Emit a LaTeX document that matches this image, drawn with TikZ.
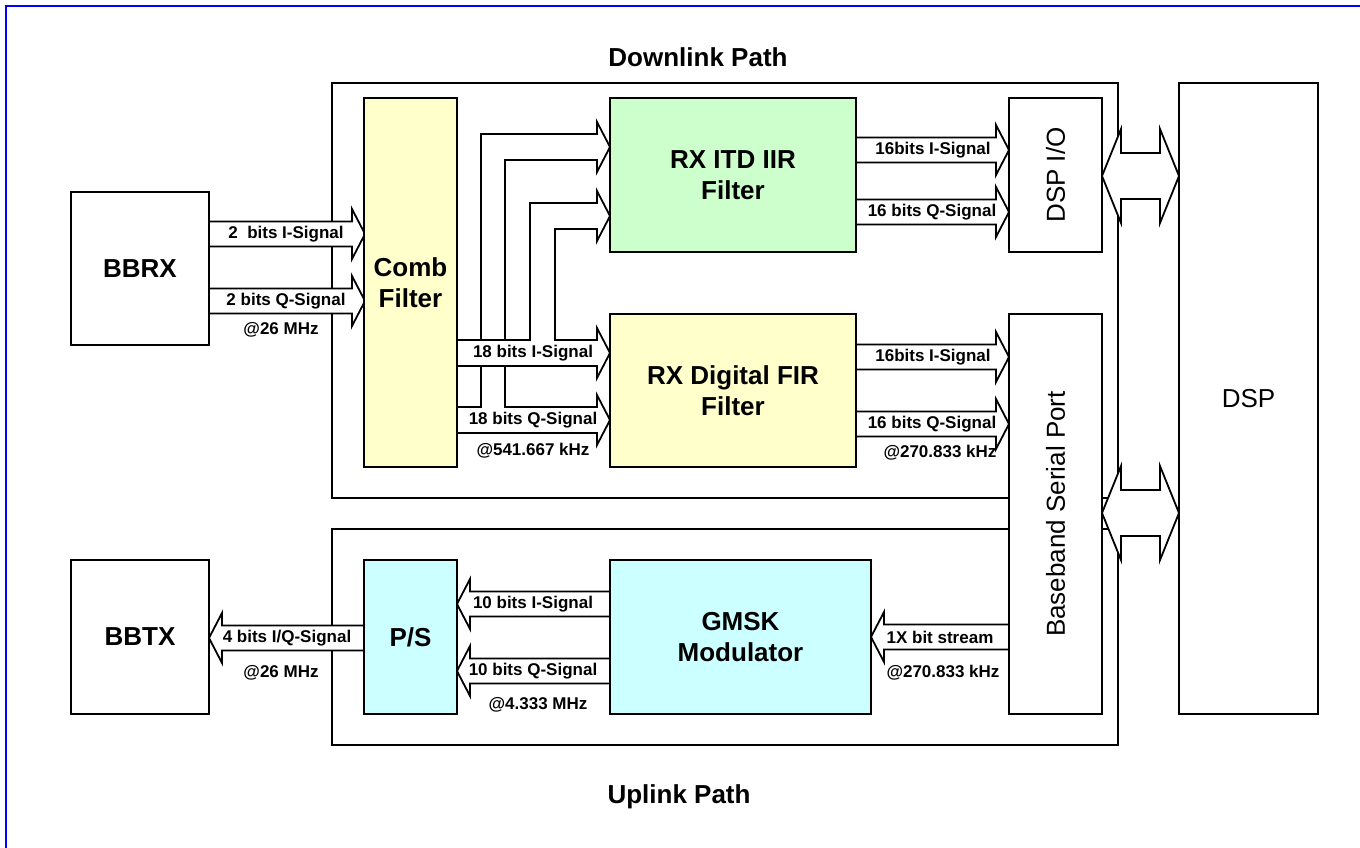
\documentclass[tikz,border=0pt]{standalone}
\usepackage{fontspec}
\setmainfont{Liberation Sans}
\definecolor{cyel}{HTML}{FFFFCC}
\definecolor{cgrn}{HTML}{CCFFCC}
\definecolor{ccyn}{HTML}{CCFFFF}
\definecolor{cblu}{HTML}{0000FF}
\newcommand\arrR[3]{\filldraw[fat] (#1,#3-12.5) -- (#2-13,#3-12.5) -- (#2-13,#3-25) -- (#2,#3) -- (#2-13,#3+25) -- (#2-13,#3+12.5) -- (#1,#3+12.5) -- cycle;}
\newcommand\arrL[3]{\filldraw[fat] (#2,#3-12.5) -- (#1+13,#3-12.5) -- (#1+13,#3-25) -- (#1,#3) -- (#1+13,#3+25) -- (#1+13,#3+12.5) -- (#2,#3+12.5) -- cycle;}
\newcommand\dblarr[1]{\filldraw[fat] (1102,#1) -- (1121,#1-47) -- (1121,#1-23) -- (1160,#1-23) -- (1160,#1-47) -- (1179,#1) -- (1160,#1+47) -- (1160,#1+23) -- (1121,#1+23) -- (1121,#1+47) -- cycle;}
\begin{document}
\begin{tikzpicture}[x=1pt,y=-1pt,
  box/.style={draw, line width=1.8, inner sep=0pt, align=center, fill=white},
  big/.style={font=\fontsize{26}{31}\selectfont\bfseries},
  reg/.style={font=\fontsize{26}{31}\selectfont},
  lbl/.style={font=\fontsize{17}{20}\selectfont\bfseries, inner sep=0pt},
  fat/.style={draw=black, fill=white, line width=1.8, line join=miter},
  frame/.style={draw, line width=1.8, inner sep=0pt}]
\useasboundingbox (0,0) rectangle (1360,848);
\draw[cblu, line width=2] (6,848) -- (6,6) -- (1360,6);
% frames
\node[frame, minimum width=786, minimum height=415] (down) at (725,290.5) {};
\node[frame, minimum width=786, minimum height=216] (up) at (725,637) {};
\node[big] (downt) at (698,57) {Downlink Path};
\node[big] (upt) at (679,797) {Uplink Path};
% block arrows
\arrR{209}{365}{234}
\arrR{209}{365}{301}
\filldraw[fat] (457,407) -- (481,407) -- (481,134) -- (597,134) -- (597,122) -- (610,147) -- (597,172) -- (597,160) -- (505,160) -- (505,407) -- (597,407) -- (597,395) -- (610,420) -- (597,445) -- (597,433) -- (457,433) -- cycle;
\filldraw[fat] (457,340) -- (530,340) -- (530,203) -- (597,203) -- (597,191) -- (610,216) -- (597,241) -- (597,229) -- (555,229) -- (555,340) -- (597,340) -- (597,328) -- (610,353) -- (597,378) -- (597,366) -- (457,366) -- cycle;
\arrR{856}{1009}{150}
\arrR{856}{1009}{212}
\arrR{856}{1009}{357}
\arrR{856}{1009}{424}
\arrL{871}{1009}{637}
\arrL{457}{610}{604}
\arrL{457}{610}{671}
\arrL{209}{364}{638}
\dblarr{176}
\dblarr{513}
% boxes
\node[box, big, minimum width=138, minimum height=153] (bbrx) at (140,268.5) {BBRX};
\node[box, big, minimum width=138, minimum height=154] (bbtx) at (140,637) {BBTX};
\node[box, big, fill=cyel, minimum width=93, minimum height=369] (comb) at (410.5,282.5) {Comb\\Filter};
\node[box, big, fill=cgrn, minimum width=246, minimum height=154] (itd) at (733,175) {RX ITD IIR\\Filter};
\node[box, big, fill=cyel, minimum width=246, minimum height=153] (fir) at (733,390.5) {RX Digital FIR\\Filter};
\node[box, reg, rotate=90, minimum width=154, minimum height=93] (dspio) at (1055.5,175) {DSP I/O};
\node[box, reg, rotate=90, minimum width=400, minimum height=93] (bsp) at (1055.5,514) {Baseband Serial Port};
\node[box, reg, minimum width=139, minimum height=631] (dsp) at (1248.5,398.5) {DSP};
\node[box, big, fill=ccyn, minimum width=93, minimum height=154] (ps) at (410.5,637) {P/S};
\node[box, big, fill=ccyn, minimum width=261, minimum height=154] (gmsk) at (740.5,637) {GMSK\\Modulator};
% labels
\node[lbl] (l1) at (286,234) {2\ \ bits I-Signal};
\node[lbl] (l2) at (286,301) {2 bits Q-Signal};
\node[lbl] (r1) at (281,330) {@26 MHz};
\node[lbl] (l3) at (533,353) {18 bits I-Signal};
\node[lbl] (l4) at (533,420) {18 bits Q-Signal};
\node[lbl] (r2) at (533,451) {@541.667 kHz};
\node[lbl] (l5) at (933,150) {16bits I-Signal};
\node[lbl] (l6) at (932,212) {16 bits Q-Signal};
\node[lbl] (l7) at (933,357) {16bits I-Signal};
\node[lbl] (l8) at (932,424) {16 bits Q-Signal};
\node[lbl] (r3) at (940,453) {@270.833 kHz};
\node[lbl] (l9) at (940,637) {1X bit stream};
\node[lbl] (r4) at (943,673) {@270.833 kHz};
\node[lbl] (l10) at (533,604) {10 bits I-Signal};
\node[lbl] (l11) at (533,671) {10 bits Q-Signal};
\node[lbl] (r5) at (538,705) {@4.333 MHz};
\node[lbl] (l12) at (287,638) {4 bits I/Q-Signal};
\node[lbl] (r6) at (281,673) {@26 MHz};
\end{tikzpicture}
\end{document}
